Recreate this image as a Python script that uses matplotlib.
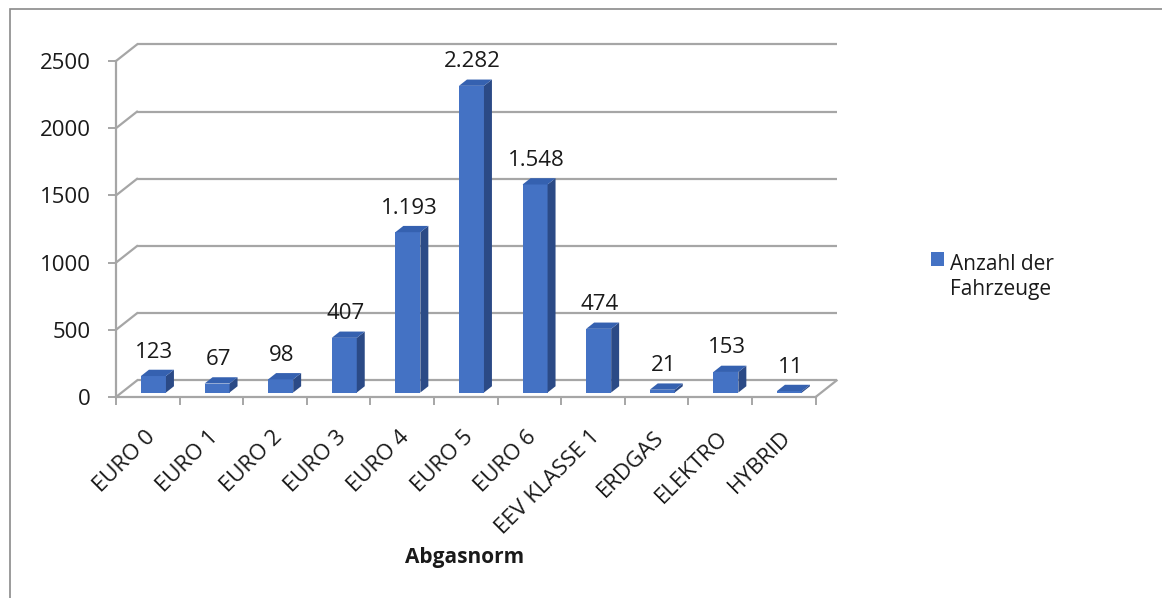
"""Vehicle count per emission standard as a pseudo-3D column chart."""

import matplotlib
matplotlib.use("Agg")
import matplotlib.pyplot as plt
from matplotlib.patches import Polygon, Rectangle

plt.rcParams["font.family"] = ["Open Sans", "DejaVu Sans"]

categories = ["EURO 0", "EURO 1", "EURO 2", "EURO 3", "EURO 4", "EURO 5",
              "EURO 6", "EEV KLASSE 1", "ERDGAS", "ELEKTRO", "HYBRID"]
vehicles = [123, 67, 98, 407, 1193, 2282, 1548, 474, 21, 153, 11]
y_ticks = [0, 500, 1000, 1500, 2000, 2500]
series_label = "Anzahl der\nFahrzeuge"
x_title = "Abgasnorm"

W, H = 1162, 598
FRONT = "#4472c4"
SIDE = "#2b4a86"
TOP = "#3561b0"
GRID = "#a6a6a6"
TEXT = "#1a1a1a"

# depth of the floor/back wall, in data units
DX, DY = 0.33, 123
YMAX = 2500
BAR_W = 0.393
F_FRONT, F_DEPTH = 0.27, 0.38


def fmt_de(v):
    return f"{v:,}".replace(",", ".")


fig = plt.figure(figsize=(W / 100, H / 100), dpi=100)
fig.patch.set_facecolor("white")

n = len(categories)
left_px, bottom_px = 116, 397
width_px = n * 63.6 + DX * 63.6
height_px = 336 * (YMAX + DY) / YMAX
ax = fig.add_axes([left_px / W, 1 - bottom_px / H, width_px / W, height_px / H])
ax.set_xlim(0, n + DX)
ax.set_ylim(0, YMAX + DY)
ax.patch.set_visible(False)

# back wall gridlines and left wall diagonals
for v in y_ticks:
    ax.plot([DX, n + DX], [v + DY, v + DY], color=GRID, lw=1.6, zorder=1,
            clip_on=False, solid_capstyle="butt")
    ax.plot([0, DX], [v, v + DY], color=GRID, lw=1.6, zorder=1, clip_on=False)
ax.plot([n, n + DX], [0, DY], color=GRID, lw=1.6, zorder=1, clip_on=False)

# axes
for side in ("top", "right"):
    ax.spines[side].set_visible(False)
for side in ("left", "bottom"):
    ax.spines[side].set_color(GRID)
    ax.spines[side].set_linewidth(1.6)
ax.spines["left"].set_bounds(0, YMAX)
ax.spines["bottom"].set_bounds(0, n)

ax.set_yticks(y_ticks)
ax.set_yticklabels([str(t) for t in y_ticks])
ax.tick_params(axis="y", direction="out", length=6, width=1.4, color=GRID,
               labelsize=16, labelcolor=TEXT, pad=12)
ax.set_xticks(range(n + 1))
ax.set_xticklabels([])
ax.tick_params(axis="x", which="major", direction="out", length=6, width=1.4,
               color=GRID)

# rotated category names under each slot
for i, name in enumerate(categories):
    ax.annotate(name, xy=(i + 0.5, 0), xytext=(4, -37),
                textcoords="offset pixels", rotation=45,
                rotation_mode="anchor", ha="right", va="center",
                fontsize=16, color=TEXT, annotation_clip=False)

# columns: front face via bar, side and top as polygons
ddx, ddy = F_DEPTH * DX, F_DEPTH * DY
for i, v in enumerate(vehicles):
    x0 = i + 0.5 - BAR_W / 2 + F_FRONT * DX
    y0 = F_FRONT * DY
    ax.bar(x0, v, width=BAR_W, bottom=y0, align="edge", color=FRONT,
           linewidth=0, zorder=3)
    x1 = x0 + BAR_W
    ax.add_patch(Polygon([(x1, y0), (x1 + ddx, y0 + ddy),
                          (x1 + ddx, y0 + v + ddy), (x1, y0 + v)],
                         closed=True, facecolor=SIDE, edgecolor="none", zorder=3))
    ax.add_patch(Polygon([(x0, y0 + v), (x1, y0 + v),
                          (x1 + ddx, y0 + v + ddy), (x0 + ddx, y0 + v + ddy)],
                         closed=True, facecolor=TOP, edgecolor="none", zorder=3))
    ax.annotate(fmt_de(v), xy=(x0 + BAR_W / 2, y0 + v), xytext=(1, 24),
                textcoords="offset pixels", ha="center", va="center",
                fontsize=16, color=TEXT, zorder=4)

# axis title
fig.text(465 / W, 1 - 558 / H, x_title, ha="center", va="center",
         fontsize=15, fontweight="bold", color=TEXT)

# legend
fig.add_artist(Rectangle((931 / W, 1 - 266 / H), 13 / W, 14 / H,
                         transform=fig.transFigure, facecolor=FRONT,
                         edgecolor="none"))
fig.text(950 / W, 1 - 277 / H, series_label, ha="left", va="center",
         fontsize=15, color=TEXT, linespacing=1.25)

# chart frame
fig.add_artist(Rectangle((9.5 / W, -0.1), 2, 1.1 - 9.5 / H,
                         transform=fig.transFigure, fill=False,
                         edgecolor="#8a8a8a", lw=1.2))

fig.savefig("out.png", dpi=100, facecolor="white")
